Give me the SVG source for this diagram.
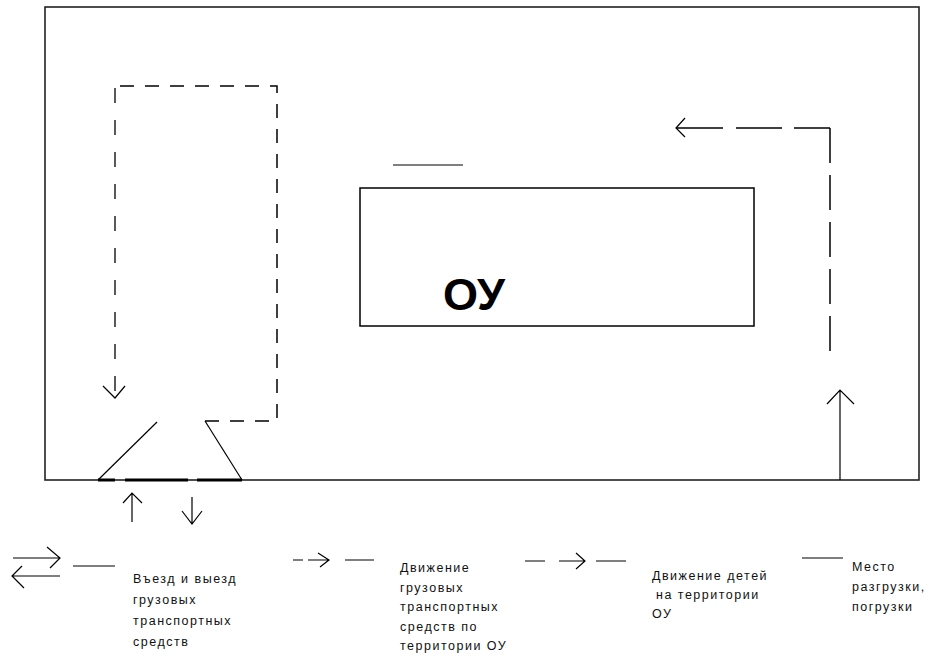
<svg xmlns="http://www.w3.org/2000/svg" width="943" height="656" viewBox="0 0 943 656">
<style>
.ln{stroke:#000;stroke-width:1.2;fill:none}
.tx{font-family:"Liberation Sans",Arial,sans-serif;font-size:12.5px;letter-spacing:1.5px;fill:#111}
.d1{stroke:#000;stroke-width:1.5;fill:none;stroke-dasharray:14 11}
</style>
<rect width="943" height="656" fill="#fff"/>
<g id="territory">
<rect x="45" y="7" width="874" height="473" fill="none" stroke="#222" stroke-width="1.6"/>
</g>
<g id="building">
<rect x="360" y="188" width="394" height="138" fill="none" stroke="#000" stroke-width="1.5"/>
<text x="443" y="310" font-family="'Liberation Sans',Arial,sans-serif" font-size="45" font-weight="bold">ОУ</text>
</g>
<g id="unloading-place">
<line class="ln" x1="393" y1="165" x2="463" y2="165"/>
</g>
<g id="gate">
<line class="ln" x1="98" y1="480" x2="157" y2="422"/>
<line class="ln" x1="205" y1="421" x2="242" y2="480"/>
<path d="M98 480H115M125 480H188M197 480H242" stroke="#000" stroke-width="3" fill="none"/>
</g>
<g id="connectors">
<path class="d1" d="M205 421H277V86H120"/>
<path d="M115 88V398" stroke="#000" stroke-width="1.3" fill="none" stroke-dasharray="15 17"/>
<path class="ln" d="M103 386L115 398L125 386"/>
<path class="ln" d="M132 522V493M123 503L132 493L142 503"/>
<path class="ln" d="M192 497V524M182 511L192 524L202 511"/>
<path d="M830 128V353" stroke="#000" stroke-width="1.5" fill="none" stroke-dasharray="35 12"/>
<path d="M830 128H794M782 128H736M723 128H676" stroke="#000" stroke-width="1.5" fill="none"/>
<path class="ln" d="M685 118L676 128L685 137"/>
<path class="ln" d="M840 480V390M827 404L840 390L854 404"/>
</g>
<g id="legend">
<path class="ln" d="M13 558H60M47 547L60 558L50 568"/>
<path class="ln" d="M12 576H60M22 566L12 576L24 588"/>
<line class="ln" x1="73" y1="566" x2="115" y2="566"/>
<text class="tx" x="133" y="583">Въезд и выезд</text>
<text class="tx" x="133" y="604">грузовых</text>
<text class="tx" x="133" y="625">транспортных</text>
<text class="tx" x="133" y="646">средств</text>
<path class="ln" d="M293 560H303M308 560H329M318 553L329 560L320 567M345 560H374"/>
<text class="tx" x="400" y="572">Движение</text>
<text class="tx" x="400" y="591.5">грузовых</text>
<text class="tx" x="400" y="611">транспортных</text>
<text class="tx" x="400" y="630.5">средств по</text>
<text class="tx" x="400" y="650">территории ОУ</text>
<path class="ln" d="M525 561H545M559 561H585M576 553L585 561L576 569M596 561H626"/>
<text class="tx" x="652" y="580">Движение детей</text>
<text class="tx" x="656" y="599">на территории</text>
<text class="tx" x="652" y="618">ОУ</text>
<line class="ln" x1="802" y1="558" x2="843" y2="558"/>
<text class="tx" x="852" y="571">Место</text>
<text class="tx" x="852" y="591">разгрузки,</text>
<text class="tx" x="852" y="611">погрузки</text>
</g>
</svg>
